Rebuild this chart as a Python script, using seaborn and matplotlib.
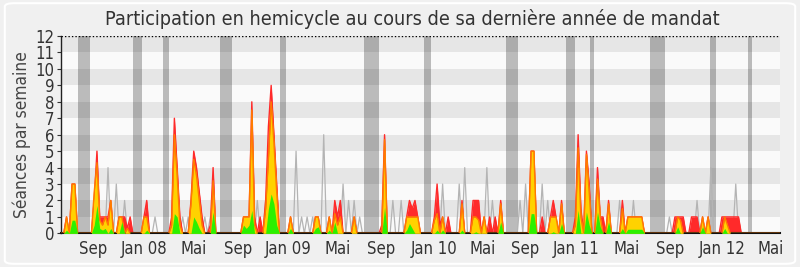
import numpy as np
import pandas as pd
import matplotlib
matplotlib.use("Agg")
import matplotlib.pyplot as plt
import seaborn as sns
from matplotlib import font_manager as fm
from matplotlib.patches import FancyBboxPatch

# ---------------- data ----------------
N_WEEKS = 261
title = "Participation en hemicycle au cours de sa dernière année de mandat"
ylabel = "Séances par semaine"
tick_labels = ["Sep", "Jan 08", "Mai", "Sep", "Jan 09", "Mai", "Sep", "Jan 10",
               "Mai", "Sep", "Jan 11", "Mai", "Sep", "Jan 12", "Mai"]
tick_weeks = [11.7, 30.0, 48.1, 64.0, 82.1, 100.2, 115.9, 134.9,
              152.5, 168.0, 186.4, 204.5, 220.2, 239.1, 256.6]
vacation_start = [6.1, 26.0, 36.9, 57.5, 79.2, 109.6, 131.3, 161.0, 182.6, 191.3, 213.0, 234.7, 248.5]
vacation_end = [10.5, 29.3, 39.1, 61.8, 81.4, 115.0, 133.8, 165.3, 185.9, 192.8, 218.4, 236.9, 249.9]

# weekly values (week index: value), weeks not listed are 0
red_vals = {2: 1, 4: 3, 5: 3,
            12: 2, 13: 5, 14: 1, 15: 1, 16: 1, 17: 1, 18: 2, 21: 1, 22: 1, 23: 1, 24: 0.3, 25: 1,
            30: 1, 31: 2,
            40: 1, 41: 7, 42: 4, 43: 1,
            47: 2, 48: 5, 49: 4, 50: 2.5, 51: 1,
            54: 0.5, 55: 4,
            66: 1, 67: 1, 68: 1, 69: 8, 70: 1, 72: 1,
            74: 2, 75: 6.5, 76: 9, 77: 6, 78: 3,
            83: 1, 92: 1, 93: 1, 97: 1, 99: 2, 100: 1, 101: 2, 106: 1,
            116: 0.5, 117: 6,
            125: 1, 126: 2, 127: 1.5, 128: 2, 129: 1,
            135: 1, 136: 3, 137: 0.5, 138: 1, 140: 1,
            145: 2, 149: 2, 150: 2, 151: 2, 153: 1, 155: 1, 157: 1, 159: 2,
            170: 5, 171: 5, 174: 1, 177: 1, 178: 2, 179: 1, 181: 2,
            186: 1, 187: 6, 188: 1.5, 190: 5, 191: 3, 194: 4, 195: 1, 196: 1, 198: 2,
            203: 2, 205: 1, 206: 1, 207: 1, 208: 1, 209: 1, 210: 1,
            222: 1, 223: 1, 224: 1, 225: 1,
            228: 1, 229: 1, 230: 1, 232: 1, 234: 1,
            239: 1, 240: 1, 241: 1, 242: 1, 243: 1, 244: 1, 245: 1}
yellow_vals = {2: 1, 4: 3, 5: 3,
               12: 2.5, 13: 4.3, 14: 0.8, 15: 0.5, 16: 1, 17: 0.5, 18: 2, 21: 1, 22: 1, 24: 0.3,
               30: 1, 31: 1,
               40: 0.5, 41: 6, 42: 3.5, 43: 0.5,
               47: 1.8, 48: 4.5, 49: 3.5, 50: 2, 51: 0.5,
               55: 3.2,
               66: 1, 67: 1, 68: 1, 69: 7.5, 70: 0.5,
               74: 1.5, 75: 4.5, 76: 8, 77: 5.5, 78: 2.5,
               83: 1, 92: 1, 93: 1, 97: 1, 99: 1.2, 100: 0.5, 101: 1, 106: 1,
               117: 5.7,
               125: 1, 126: 1, 127: 1, 128: 1, 129: 1,
               135: 0.8, 136: 1.2, 138: 1,
               145: 1.8, 149: 1, 150: 1, 151: 0.8, 153: 1, 159: 1.8,
               170: 5, 171: 5, 177: 1, 178: 1, 179: 1, 181: 1.8,
               186: 0.5, 187: 5.2, 188: 1, 190: 4.8, 191: 2.5, 194: 3.3, 195: 1, 198: 1.8,
               203: 1.5, 205: 1, 206: 1, 207: 1, 208: 1, 209: 1, 210: 1,
               223: 1, 224: 0.8, 232: 1, 234: 1,
               240: 1, 241: 0.5}
green_vals = {2: 0.2, 4: 0.8, 5: 0.8,
              12: 0.5, 13: 1.7, 14: 0.3, 15: 0.2, 16: 0.3, 18: 0.3, 22: 0.7,
              31: 0.2,
              41: 1.2, 42: 1.0,
              48: 1.0, 49: 0.7, 50: 0.3,
              55: 1.3,
              66: 0.5, 67: 0.3, 68: 0.5, 69: 1.4,
              75: 1.5, 76: 2.4, 77: 1.8, 78: 0.5,
              83: 0.3, 92: 0.3, 93: 0.4, 97: 0.2, 99: 0.7,
              117: 1.6,
              125: 0.2, 126: 0.6, 127: 0.3,
              136: 0.2, 138: 0.2, 145: 0.2, 150: 0.1, 159: 0.7,
              170: 1.2, 171: 1.2, 178: 0.1, 181: 0.6,
              187: 1.4, 190: 1.3, 191: 0.5, 194: 1.3, 195: 0.4, 198: 0.7,
              203: 0.3, 205: 0.25, 206: 0.25, 207: 0.25, 208: 0.25, 209: 0.25, 210: 0.25,
              223: 0.4, 232: 0.4, 240: 0.3}
grey_vals = {17: 4, 20: 3, 23: 2, 34: 1,
             44: 1, 46: 1, 52: 1, 54: 1,
             71: 2, 74: 2,
             85: 5, 87: 1, 89: 1, 91: 1, 95: 6, 99: 1, 102: 3, 104: 2, 106: 2, 108: 1,
             120: 2, 123: 2,
             138: 3, 144: 3, 146: 4, 154: 4, 156: 2,
             166: 2, 168: 3, 174: 3, 176: 2,
             202: 2, 207: 2,
             220: 1, 230: 2, 235: 4, 244: 3}

# ---------------- build table ----------------
weeks = np.arange(N_WEEKS)
df = pd.DataFrame({"week": weeks})
for name, vals in [("red", red_vals), ("yellow", yellow_vals), ("green", green_vals), ("grey", grey_vals)]:
    df[name] = df["week"].map(vals).fillna(0.0)

# ---------------- style ----------------
sns.set_theme(style="white")
fnames = " ".join(f.fname for f in fm.fontManager.ttflist)
stretch = "condensed" if "DejaVuSansCondensed" in fnames else "normal"
plt.rcParams["font.family"] = ["DejaVu Sans"]
plt.rcParams["font.stretch"] = stretch

C_RED = "#ff2a2a"
C_YEL = "#ffd200"
C_GRN = "#2cf000"
C_ORA = "#ff7a00"
C_GRY = "#b4b4b4"

fig = plt.figure(figsize=(8, 2.67), dpi=100)
fig.patch.set_facecolor("#f0f0f0")
fig.patches.append(FancyBboxPatch((0.006, 0.012), 0.988, 0.976, boxstyle="round,pad=0,rounding_size=0.012",
                                  transform=fig.transFigure, facecolor="none",
                                  edgecolor="#ffffff", lw=1.5, zorder=0))
ax = fig.add_axes([0.07625, 0.126, 0.89875, 0.739])
ax.set_facecolor("#fafafa")
ax.set_xlim(0, 260)
ax.set_ylim(0, 12)

for k in range(1, 12, 2):
    ax.axhspan(k, k + 1, color="#e6e6e6", lw=0, zorder=0)
for a, b in zip(vacation_start, vacation_end):
    ax.axvspan(a, b, color="black", alpha=0.25, lw=0, zorder=0.5)

sns.lineplot(data=df, x="week", y="grey", ax=ax, color=C_GRY, lw=0.9, zorder=1)
ax.fill_between(df["week"], 0, df["red"], color=C_RED, lw=0, zorder=2)
sns.lineplot(data=df, x="week", y="red", ax=ax, color=C_RED, lw=1.0, zorder=2.1)
ax.fill_between(df["week"], 0, df["yellow"], color=C_YEL, lw=0, zorder=3)
sns.lineplot(data=df, x="week", y="yellow", ax=ax, color=C_ORA, lw=1.0, zorder=3.5)
ax.fill_between(df["week"], 0, df["green"], color=C_GRN, lw=0, zorder=4)

ax.axhline(12, color="black", lw=1, ls=(0, (1, 1.5)), zorder=5)

for s in ["top", "right"]:
    ax.spines[s].set_visible(False)
ax.spines["left"].set_color("#222222")
ax.spines["bottom"].set_color("#111111")
ax.spines["bottom"].set_linewidth(1.5)
ax.spines["left"].set_linewidth(1.0)

ax.set_yticks(range(0, 13))
ax.set_yticklabels([str(v) for v in range(0, 13)])
ax.set_xticks(tick_weeks)
ax.set_xticklabels(tick_labels)
ax.tick_params(axis="y", length=3, width=0.8, color="#333333", pad=2, labelsize=12, labelcolor="#333333", left=True)
ax.tick_params(axis="x", length=0, pad=5, labelsize=12, labelcolor="#333333")
ax.set_xlabel("")
ax.set_ylabel(ylabel, fontsize=12.4, color="#444444", labelpad=3)
ax.grid(False)

fig.text(0.515, 0.928, title, ha="center", va="center", fontsize=14.2, color="#333333")

fig.savefig("out.png", dpi=100, facecolor=fig.get_facecolor())
